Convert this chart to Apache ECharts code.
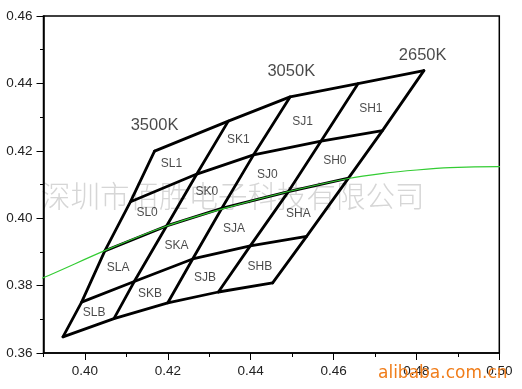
<!DOCTYPE html>
<html>
<head>
<meta charset="utf-8">
<script src="https://cdn.jsdelivr.net/npm/echarts@6/dist/echarts.min.js"></script>
<style>html,body{margin:0;padding:0;background:#fff;}#c{width:522px;height:389px;}</style>
</head>
<body>
<div id="c"></div>
<script>
// Grid vertices (rows: top, 1/0, 0/A, A/B, bottom ; columns: L.. H right edge)
const vertexX = [
  [0.4168, 0.4346, 0.4495, 0.4659, 0.4818],
  [0.4110, 0.4270, 0.4407, 0.4570, 0.4718],
  [0.4048, 0.4197, 0.4330, 0.4491, 0.4636],
  [0.3992, 0.4119, 0.4260, 0.4399, 0.4535],
  [0.3947, 0.4070, 0.4200, 0.4322, 0.4453]
];
const vertexY = [
  [0.4199, 0.4288, 0.4360, 0.4399, 0.4438],
  [0.4049, 0.4131, 0.4188, 0.4229, 0.4260],
  [0.3903, 0.3977, 0.4029, 0.4079, 0.4119],
  [0.3751, 0.3812, 0.3879, 0.3918, 0.3946],
  [0.3648, 0.3702, 0.3749, 0.3781, 0.3808]
];
const binNames = ['SL1','SK1','SJ1','SH1','SL0','SK0','SJ0','SH0','SLA','SKA','SJA','SHA','SLB','SKB','SJB','SHB'];
const binLabelX = [0.4209,0.4370,0.4525,0.4690, 0.4150,0.4294,0.4440,0.4603, 0.4080,0.4221,0.4360,0.4515, 0.4022,0.4157,0.4290,0.4422];
const binLabelY = [0.4163,0.4232,0.4286,0.4324, 0.4015,0.4079,0.4128,0.4170, 0.3853,0.3918,0.3968,0.4012, 0.3720,0.3777,0.3823,0.3856];
const cctNames = ['3500K','3050K','2650K'];
const cctX = [0.4168, 0.4498, 0.4815];
const cctY = [0.4274, 0.4435, 0.4484];
// Planckian locus (green)
const locusX = [0.3880, 0.3899, 0.4052, 0.4197, 0.4330, 0.4491, 0.4636, 0.4720, 0.4801, 0.4881, 0.4998, 0.5010];
const locusY = [0.3817, 0.3823, 0.3906, 0.3977, 0.4027, 0.4079, 0.4118, 0.4133, 0.4143, 0.4150, 0.4153, 0.4153];
const xMin = 0.39, xMax = 0.50, yMin = 0.36, yMax = 0.46;

const FONT = '"Liberation Sans", Arial, sans-serif';
const chart = echarts.init(document.getElementById('c'), null, {renderer: 'canvas'});

const gLeft = 43.5, gRight = 22.7, gTop = 16, gBottom = 36;
const gWidth = 522 - gLeft - gRight;
const gLeft2 = gLeft + gWidth * (0.40 - xMin) / (xMax - xMin);

const series = [];
function addLine(pts) {
  series.push({
    type: 'line', xAxisIndex: 0, yAxisIndex: 0, data: pts, symbol: 'none',
    lineStyle: {color: '#000', width: 2.8, cap: 'round', join: 'round'}, z: 3, silent: true, animation: false
  });
}
for (let r = 0; r < 5; r++) {
  addLine(vertexX[r].map((x, c) => [x, vertexY[r][c]]));
}
for (let c = 0; c < 5; c++) {
  addLine(vertexX.map((row, r) => [row[c], vertexY[r][c]]));
}
series.push({
  type: 'line', data: locusX.map((x, i) => [x, locusY[i]]), symbol: 'none', smooth: 0.3,
  lineStyle: {color: '#33cc33', width: 1.1}, z: 4, silent: true, animation: false
});
series.push({
  type: 'scatter', data: binNames.map((n, i) => ({name: n, value: [binLabelX[i], binLabelY[i]]})),
  symbolSize: 2, itemStyle: {color: 'rgba(0,0,0,0)'}, z: 5, silent: true, animation: false,
  label: {show: true, position: 'inside', formatter: '{b}', color: '#1a1a1a', fontSize: 12, fontFamily: FONT}
});
series.push({
  type: 'scatter', data: cctNames.map((n, i) => ({name: n, value: [cctX[i], cctY[i]]})),
  symbolSize: 2, itemStyle: {color: 'rgba(0,0,0,0)'}, z: 5, silent: true, animation: false,
  label: {show: true, position: 'inside', formatter: '{b}', color: '#1a1a1a', fontSize: 16.5, fontFamily: FONT}
});
series.push({
  type: 'scatter', xAxisIndex: 1, yAxisIndex: 1, data: [], silent: true
});

const option = {
  animation: false,
  backgroundColor: '#fff',
  grid: [
    {left: gLeft, right: gRight, top: gTop, bottom: gBottom, show: true, borderColor: '#000', borderWidth: 1.5, backgroundColor: 'transparent'},
    {left: gLeft2, right: gRight, top: gTop, bottom: gBottom, show: false}
  ],
  xAxis: [
    {type: 'value', gridIndex: 0, min: xMin, max: xMax, interval: 0.01,
     axisLine: {show: true, onZero: false, lineStyle: {color: '#000', width: 1.5}},
     axisTick: {show: true, length: 4, lineStyle: {color: '#000', width: 1}},
     axisLabel: {show: false}, splitLine: {show: false}},
    {type: 'value', gridIndex: 1, min: 0.40, max: xMax, interval: 0.02,
     axisLine: {show: false, onZero: false},
     axisTick: {show: true, length: 7, lineStyle: {color: '#000', width: 1}},
     axisLabel: {show: true, margin: 11, color: '#222', fontSize: 13.5, fontFamily: FONT, formatter: v => v.toFixed(2)},
     splitLine: {show: false}}
  ],
  yAxis: [
    {type: 'value', gridIndex: 0, min: yMin, max: yMax, interval: 0.02,
     axisLine: {show: true, onZero: false, lineStyle: {color: '#000', width: 1.5}},
     axisTick: {show: true, length: 7, lineStyle: {color: '#000', width: 1}},
     minorTick: {show: true, splitNumber: 2, length: 3.5, lineStyle: {color: '#000', width: 1}},
     axisLabel: {show: true, margin: 11, color: '#222', fontSize: 13.5, fontFamily: FONT, formatter: v => v.toFixed(2)},
     splitLine: {show: false}},
    {type: 'value', gridIndex: 1, min: yMin, max: yMax, show: false}
  ],
  graphic: [
    {type: 'text', x: 41, y: 196, z: -10, silent: true,
     style: {text: '深圳市佰胜电子科技有限公司', fontSize: 29.5, fontWeight: 300,
             fontFamily: '"Noto Sans CJK SC", sans-serif', fill: '#d6d6d6', align: 'left', verticalAlign: 'middle'}},
    {type: 'text', x: 378, y: 374, z: 100, zlevel: 1, silent: true,
     style: {text: 'alibaba.com.cn', fontSize: 17, fontFamily: '"DejaVu Sans", sans-serif',
             fill: '#f07d1a', align: 'left', verticalAlign: 'middle'}}
  ],
  series: series
};
chart.setOption(option);
</script>
</body>
</html>
